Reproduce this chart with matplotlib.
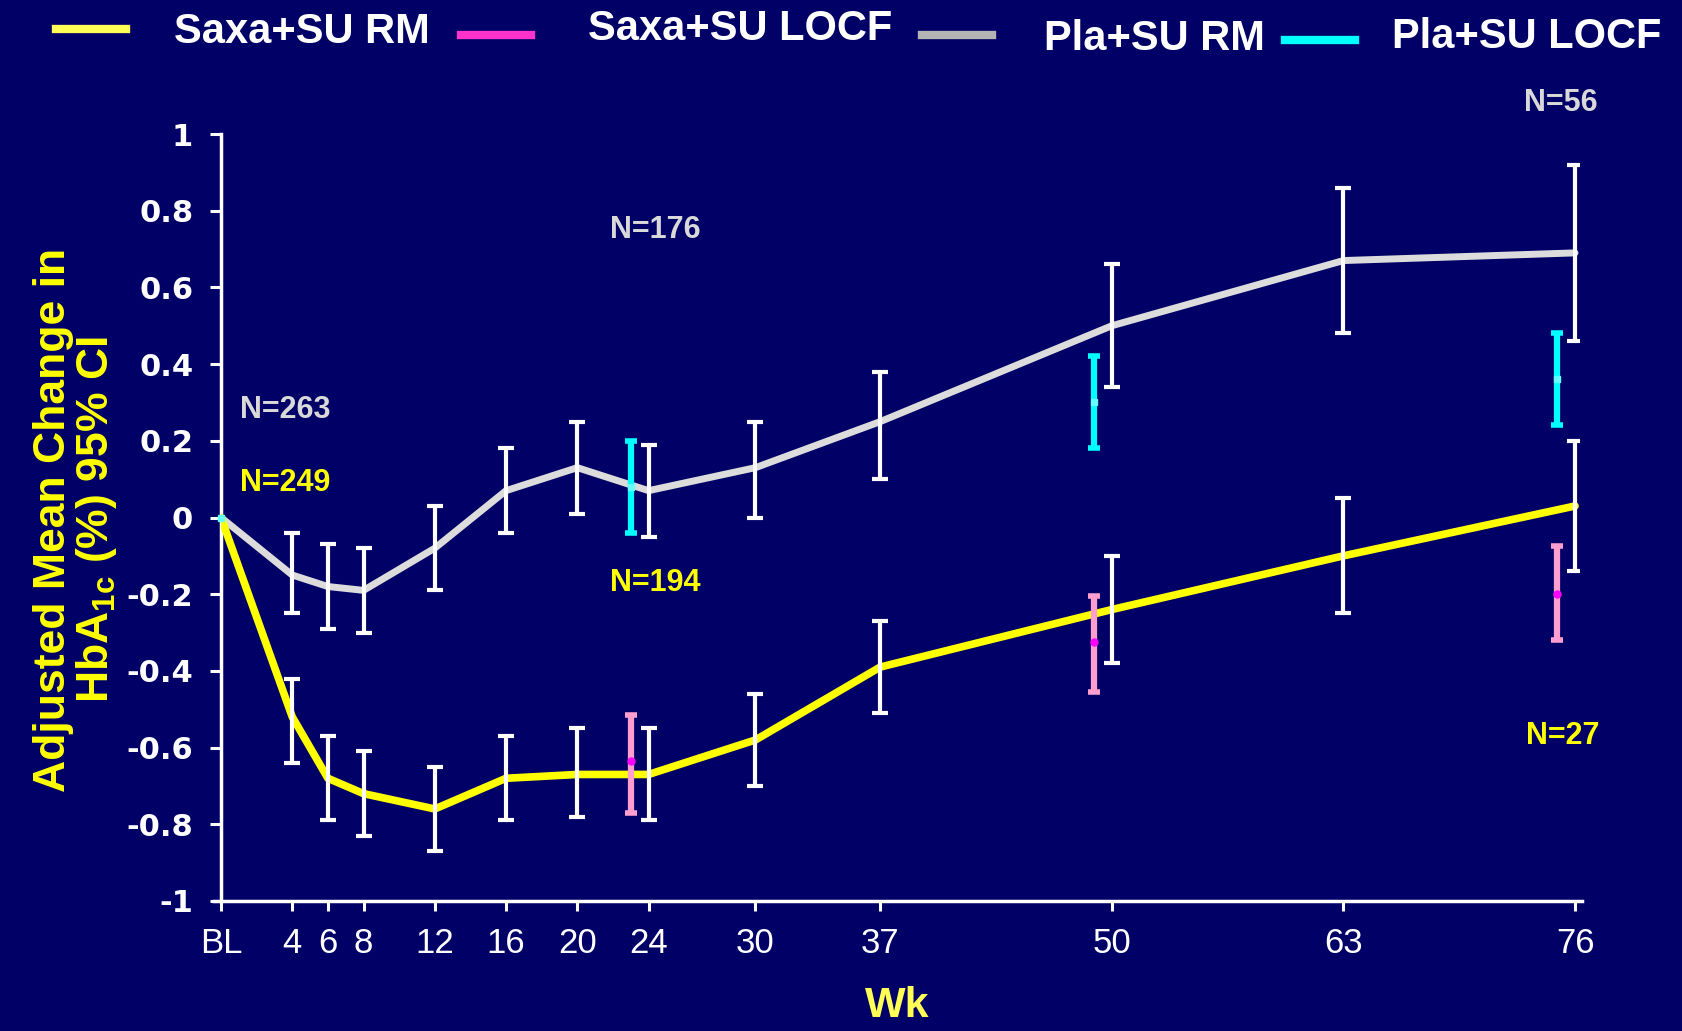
import matplotlib
matplotlib.use('Agg')
import matplotlib.pyplot as plt
from matplotlib.lines import Line2D
import numpy as np

plt.rcParams['axes.unicode_minus'] = False
plt.rcParams['mathtext.fontset'] = 'custom'
plt.rcParams['mathtext.bf'] = 'Liberation Sans:bold'
plt.rcParams['mathtext.rm'] = 'Liberation Sans:bold'

NARROW = ['Liberation Sans Narrow', 'Liberation Sans', 'DejaVu Sans']
BOLD = ['Liberation Sans', 'DejaVu Sans']

# weeks on study
weeks = [0, 4, 6, 8, 12, 16, 20, 24, 30, 37, 50, 63, 76]
week_labels = ['BL', '4', '6', '8', '12', '16', '20', '24', '30', '37', '50', '63', '76']

# repeated measures, adjusted mean change in HbA1c (%) with 95% CI
saxa_rm = [0, -0.52, -0.68, -0.72, -0.76, -0.68, -0.67, -0.67, -0.58, -0.39, -0.24, -0.10, 0.03]
saxa_rm_hi = [0, -0.42, -0.57, -0.61, -0.65, -0.57, -0.55, -0.55, -0.46, -0.27, -0.10, 0.05, 0.20]
saxa_rm_lo = [0, -0.64, -0.79, -0.83, -0.87, -0.79, -0.78, -0.79, -0.70, -0.51, -0.38, -0.25, -0.14]

pla_rm = [0, -0.15, -0.18, -0.19, -0.08, 0.07, 0.13, 0.07, 0.13, 0.25, 0.50, 0.67, 0.69]
pla_rm_hi = [0, -0.04, -0.07, -0.08, 0.03, 0.18, 0.25, 0.19, 0.25, 0.38, 0.66, 0.86, 0.92]
pla_rm_lo = [0, -0.25, -0.29, -0.30, -0.19, -0.04, 0.01, -0.05, 0.00, 0.10, 0.34, 0.48, 0.46]

# last observation carried forward
locf_weeks = [24, 50, 76]
saxa_locf = [-0.635, -0.325, -0.20]
saxa_locf_hi = [-0.515, -0.205, -0.075]
saxa_locf_lo = [-0.77, -0.456, -0.32]
pla_locf = [0.08, 0.30, 0.36]
pla_locf_hi = [0.20, 0.42, 0.48]
pla_locf_lo = [-0.04, 0.18, 0.24]

# sample sizes (text, week, value, colour)
n_labels = [('N=263', 3.6, 0.28, '#D9D9D9'), ('N=249', 3.6, 0.09, '#FFFF00'),
            ('N=176', 24.4, 0.75, '#D9D9D9'), ('N=194', 24.4, -0.17, '#FFFF00'),
            ('N=56', 75.2, 1.08, '#D9D9D9'), ('N=27', 75.3, -0.57, '#FFFF00')]

legend_names = ['Saxa+SU RM', 'Saxa+SU LOCF', 'Pla+SU RM', 'Pla+SU LOCF']
legend_colors = ['#FFFF55', '#FF33CC', '#B4B4B4', '#00FFFF']
legend_line_x = [56, 461, 922, 1285]
legend_line_y = [29, 35, 35, 40]
legend_text_x = [174, 588, 1044, 1392]
legend_text_y = [32, 29, 39, 37]

BG = '#000066'
W, H = 1682, 1031

fig = plt.figure(figsize=(16.82, 10.31), dpi=100, facecolor=BG)
ax = fig.add_axes([221 / W, 1 - 901 / H, (1578.6 - 221) / W, (901 - 134) / H])
ax.set_facecolor(BG)


def err(mid, lo, hi):
    mid = np.array(mid); lo = np.array(lo); hi = np.array(hi)
    return [mid - lo, hi - mid]


ax.plot(weeks, pla_rm, color='#DCDCDC', lw=5, zorder=3, solid_capstyle='round')
ax.plot(weeks, saxa_rm, color='#FFFF00', lw=5.5, zorder=3, solid_capstyle='round')

# white CI bars (skip baseline)
for series, lo, hi in [(saxa_rm, saxa_rm_lo, saxa_rm_hi), (pla_rm, pla_rm_lo, pla_rm_hi)]:
    ax.errorbar(weeks[1:], series[1:], yerr=err(series[1:], lo[1:], hi[1:]),
                fmt='none', ecolor='white', elinewidth=3, capsize=5.5,
                capthick=3, zorder=4)

# LOCF bars sit just left of the visit week
lx = np.array(locf_weeks) - 1.0
ax.errorbar(lx, saxa_locf, yerr=err(saxa_locf, saxa_locf_lo, saxa_locf_hi),
            fmt='o', color='#FF00FF', ms=5, ecolor='#FF9ECF', elinewidth=4.5,
            capsize=4, capthick=4, zorder=5)
ax.errorbar(lx, pla_locf, yerr=err(pla_locf, pla_locf_lo, pla_locf_hi),
            fmt='s', color='#66FFFF', ms=5, ecolor='#00FFFF', elinewidth=4.5,
            capsize=4, capthick=4, zorder=5)
ax.plot([0], [0], 's', color='#66FFFF', ms=5, zorder=6, clip_on=False)

for txt, x, y, c in n_labels:
    ax.text(x, y, txt, color=c, fontsize=22, fontweight='bold', family=BOLD,
            ha='center', va='center')

ax.set_xlim(0, 76.2)
ax.set_ylim(-1, 1)
ax.set_xticks(weeks)
ax.set_xticklabels(week_labels)
ax.set_yticks(np.arange(-1, 1.01, 0.2))
ax.set_yticklabels(['-1', '-0.8', '-0.6', '-0.4', '-0.2', '0', '0.2', '0.4', '0.6', '0.8', '1'])

for s in ['top', 'right']:
    ax.spines[s].set_visible(False)
for s in ['left', 'bottom']:
    ax.spines[s].set_color('white')
    ax.spines[s].set_linewidth(2.5)
ax.spines['bottom'].set_bounds(-0.4, 76.4)

ax.tick_params(axis='x', colors='white', length=7, width=2.2, pad=12, labelsize=25)
ax.tick_params(axis='y', colors='white', length=8, width=2.2, pad=12, labelsize=22)
for lab in ax.get_xticklabels():
    lab.set_family(NARROW)
for lab in ax.get_yticklabels():
    lab.set_family(['DejaVu Sans'])
    lab.set_fontweight('bold')

fig.text(76 / W, 1 - 520 / H, 'Adjusted Mean Change in\nHbA$_{\\mathbf{1c}}$ (%) 95% CI',
         rotation=90, ha='center', va='center', multialignment='center',
         color='#FFFF00', fontsize=32, fontweight='bold', family=BOLD, linespacing=1.0)
fig.text(897 / W, 1 - 986 / H, 'Wk', ha='center', va='top', color='#FFFF55',
         fontsize=31, fontweight='bold', family=NARROW)

# legend along the top edge
for name, c, x0, ly, tx, ty in zip(legend_names, legend_colors, legend_line_x,
                                   legend_line_y, legend_text_x, legend_text_y):
    fig.add_artist(Line2D([x0 / W, (x0 + 70) / W], [1 - ly / H, 1 - ly / H],
                          color=c, lw=6, transform=fig.transFigure))
    fig.text(tx / W, 1 - ty / H, name, color='white', fontsize=30, fontweight='bold',
             family=NARROW, ha='left', va='center')

fig.savefig('out.png', dpi=100, facecolor=BG)
